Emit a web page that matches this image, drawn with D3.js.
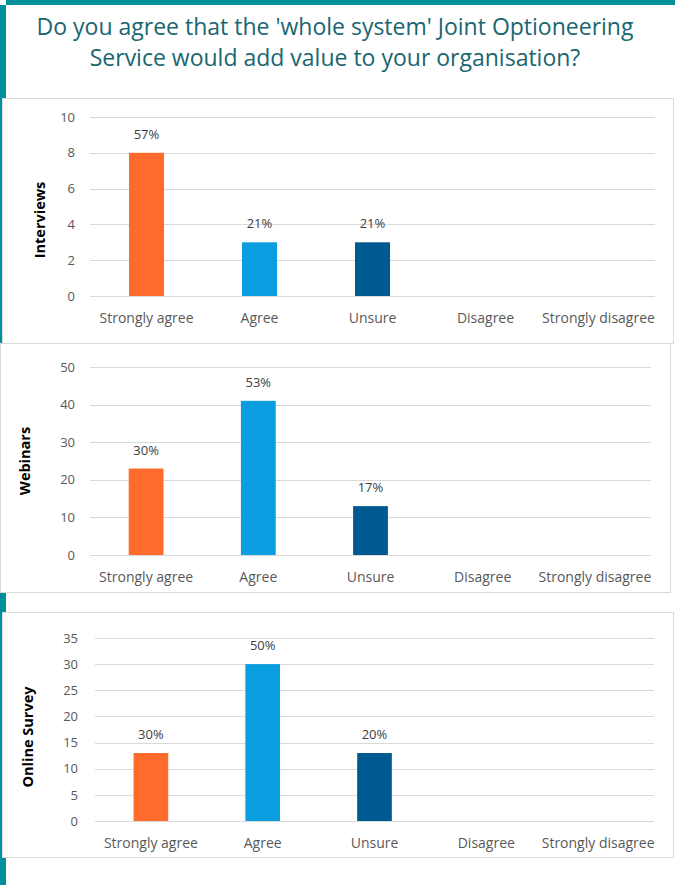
<!DOCTYPE html>
<meta charset="utf-8">
<style>
body{
	margin:0;
	background:#fff;
	font-family:"Open Sans", sans-serif;
}
svg text{
	font-family:"Open Sans", sans-serif;
}
</style>
<script src="https://cdn.jsdelivr.net/npm/d3@7"></script>
<div id="chart"></div>

<script>

// data
var categories = ["Strongly agree", "Agree", "Unsure", "Disagree", "Strongly disagree"]

var interviewsValues = [8, 3, 3, 0, 0]
var interviewsLabels = ["57%", "21%", "21%", "", ""]
var interviewsTicks = [0, 2, 4, 6, 8, 10]

var webinarsValues = [23, 41, 13, 0, 0]
var webinarsLabels = ["30%", "53%", "17%", "", ""]
var webinarsTicks = [0, 10, 20, 30, 40, 50]

var surveyValues = [13, 30, 13, 0, 0]
var surveyLabels = ["30%", "50%", "20%", "", ""]
var surveyTicks = [0, 5, 10, 15, 20, 25, 30, 35]

var barColors = ["#ff6b2c", "#0a9de0", "#005a92", "#005a92", "#005a92"]
var teal = "#00909c"

var W = 675, H = 885

var svg = d3.select("#chart").append("svg")
	.attr("width", W).attr("height", H)

// teal frame pieces
svg.append("rect").attr("x", 6).attr("y", 0).attr("width", W - 6).attr("height", 5).attr("fill", teal)
svg.append("rect").attr("x", 0).attr("y", 5).attr("width", 6).attr("height", H - 5).attr("fill", teal)

// title
var title = svg.append("text")
	.attr("text-anchor", "middle")
	.attr("fill", "#1a6670")
	.style("font-size", "23px")
title.append("tspan").attr("x", 335).attr("y", 35).text("Do you agree that the 'whole system' Joint Optioneering")
title.append("tspan").attr("x", 335).attr("y", 66).text("Service would add value to your organisation?")

// one panel per source
var panels = [
	{name: "Interviews", values: interviewsValues, labels: interviewsLabels, ticks: interviewsTicks,
		box: [2, 98, 671, 245], x0: 90, x1: 655, y0: 296, y1: 117, tickX: 75, titleX: 40, titleY: 220, catY: 324},
	{name: "Webinars", values: webinarsValues, labels: webinarsLabels, ticks: webinarsTicks,
		box: [0, 343, 670, 249], x0: 90, x1: 651, y0: 555, y1: 367, tickX: 75, titleX: 25, titleY: 461, catY: 583},
	{name: "Online Survey", values: surveyValues, labels: surveyLabels, ticks: surveyTicks,
		box: [2, 612, 671, 245], x0: 95, x1: 654, y0: 821, y1: 638, tickX: 78, titleX: 28, titleY: 737, catY: 849}
]

panels.forEach(drawPanel)

function drawPanel(p){
	var g = svg.append("g")

	g.append("rect")
		.attr("x", p.box[0] + 0.5).attr("y", p.box[1] + 0.5)
		.attr("width", p.box[2]).attr("height", p.box[3])
		.attr("fill", "#fff")
		.attr("stroke", "#d9d9d9")

	var x = d3.scaleBand()
		.domain(categories)
		.range([p.x0, p.x1])
		.paddingInner(0.69)
		.paddingOuter(0.345)

	var y = d3.scaleLinear()
		.domain([0, d3.max(p.ticks)])
		.range([p.y0, p.y1])

	// gridlines
	g.selectAll(".grid").data(p.ticks).enter().append("line")
		.attr("x1", p.x0).attr("x2", p.x1)
		.attr("y1", function(d){ return Math.round(y(d)) + 0.5 })
		.attr("y2", function(d){ return Math.round(y(d)) + 0.5 })
		.attr("stroke", "#d9d9d9")

	// y axis labels
	var yAxis = d3.axisLeft(y).tickValues(p.ticks).tickSize(0).tickPadding(0)
	var ya = g.append("g").attr("transform", "translate(" + p.tickX + ",0)").call(yAxis)
	ya.select(".domain").remove()
	ya.selectAll("text").attr("fill", "#595959").style("font-size", "13px")

	// x axis labels
	var xAxis = d3.axisBottom(x).tickSize(0).tickPadding(0)
	var xa = g.append("g").attr("transform", "translate(0," + (p.catY - 11) + ")").call(xAxis)
	xa.select(".domain").remove()
	xa.selectAll("text").attr("fill", "#595959").style("font-size", "14px")

	// bars
	g.selectAll(".bar").data(p.values).enter().append("rect")
		.attr("x", function(d, i){ return x(categories[i]) })
		.attr("width", x.bandwidth())
		.attr("y", function(d){ return y(d) })
		.attr("height", function(d){ return y(0) - y(d) })
		.attr("fill", function(d, i){ return barColors[i] })

	// value labels
	g.selectAll(".lab").data(p.values).enter().append("text")
		.attr("x", function(d, i){ return x(categories[i]) + x.bandwidth() / 2 })
		.attr("y", function(d){ return y(d) - 14 })
		.attr("text-anchor", "middle")
		.attr("fill", "#404040")
		.style("font-size", "13px")
		.text(function(d, i){ return p.labels[i] })

	// axis title
	g.append("text")
		.attr("transform", "translate(" + p.titleX + "," + p.titleY + ") rotate(-90)")
		.attr("text-anchor", "middle")
		.attr("dy", "0.35em")
		.attr("fill", "#000")
		.style("font-size", "14.5px")
		.style("font-weight", "bold")
		.text(p.name)
}

</script>
